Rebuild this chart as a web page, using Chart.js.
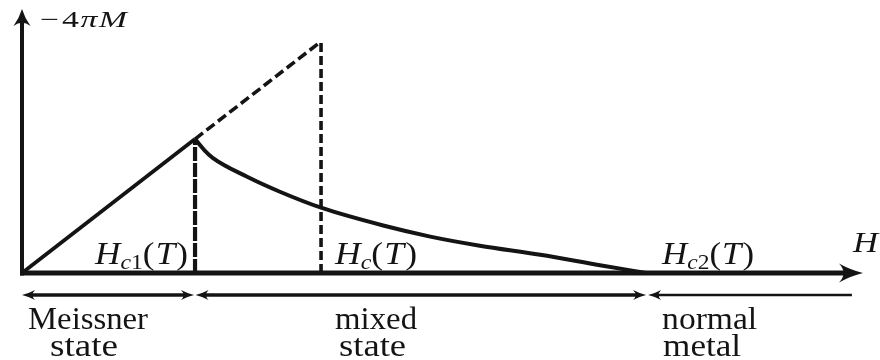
<!DOCTYPE html>
<html>
<head>
<meta charset="utf-8">
<script src="https://cdn.jsdelivr.net/npm/chart.js@4/dist/chart.umd.min.js"></script>
<style>
  html, body { margin: 0; padding: 0; background: #fff; }
  canvas { display: block; }
</style>
</head>
<body>
<canvas id="c" width="880" height="360"></canvas>
<script>
// Critical fields H_c1, H_c, H_c2 (same units as H)
const criticalFields = [2.06, 3.56, 7.43];
const fieldSubscripts = ['c1', 'c', 'c2'];

// Meissner branch: -4πM = H up to H_c1
const meissnerH = [0, 2.06];
const meissnerM = [0, 2.06];

// Continuation of the Meissner line up to the thermodynamic field H_c
const typeOneH = [2.06, 3.56];
const typeOneM = [2.06, 3.56];

// Magnetisation in the mixed state, between H_c1 and H_c2
const mixedH = [2.06, 2.17, 2.27, 2.68, 3.07, 3.57, 4.30, 4.86, 5.45, 6.17, 6.88, 7.43];
const mixedM = [2.06, 1.89, 1.77, 1.48, 1.25, 1.00, 0.73, 0.56, 0.42, 0.28, 0.12, 0.0];

// Axis extents
const axisH = [0, 10];
const axisM = [0, 4.06];

// Regions along the H axis
const regionBounds = [0, 2.06, 7.43, 9.88];
const regionNames = [['Meissner', 'state'], ['mixed', 'state'], ['normal', 'metal']];
const axisTitles = ['−4πM', 'H'];

const INK = '#141414';
const SERIF = '"Liberation Serif", "DejaVu Serif", serif';

const pts = (xs, ys) => xs.map((x, i) => ({ x, y: ys[i] }));
const [Hc1, Hc, Hc2] = criticalFields;

function arrowHead(ctx, tx, ty, angle, L, W) {
  ctx.save();
  ctx.translate(tx, ty);
  ctx.rotate(angle);
  ctx.beginPath();
  ctx.moveTo(0, 0);
  ctx.quadraticCurveTo(-L * 0.5, -W * 0.3, -L, -W);
  ctx.quadraticCurveTo(-L * 0.62, 0, -L, W);
  ctx.quadraticCurveTo(-L * 0.5, W * 0.3, 0, 0);
  ctx.closePath();
  ctx.fill();
  ctx.restore();
}

// Draws a run of text pieces (italic / roman / subscript) fitted to a width
function drawRich(ctx, parts, left, baseline, width) {
  let total = 0;
  const m = parts.map(p => {
    const font = (p.it ? 'italic ' : '') + p.size + 'px ' + SERIF;
    ctx.font = font;
    const w = ctx.measureText(p.t).width;
    const r = { font, w, p, x: total };
    total += w + (p.gap || 0);
    return r;
  });
  const sx = width / total;
  ctx.save();
  ctx.translate(left, baseline);
  ctx.scale(sx, 1);
  ctx.fillStyle = INK;
  ctx.textBaseline = 'alphabetic';
  ctx.textAlign = 'left';
  m.forEach(r => {
    ctx.font = r.font;
    ctx.fillText(r.p.t, r.x, r.p.dy || 0);
  });
  ctx.restore();
}

function fieldLabel(sub) {
  return [
    { t: 'H', it: true, size: 31 },
    { t: sub.charAt(0), it: true, size: 21, dy: 5 },
    ...(sub.length > 1 ? [{ t: sub.slice(1), size: 21, dy: 5 }] : []),
    { t: '(', size: 31, gap: 1 },
    { t: 'T', it: true, size: 31, gap: 1 },
    { t: ')', size: 31 }
  ];
}

const decorations = {
  id: 'decorations',
  beforeDatasetsDraw(chart) {
    const { ctx, scales: { x, y } } = chart;
    const x0 = x.getPixelForValue(axisH[0]);
    const y0 = y.getPixelForValue(0);
    const xEnd = x.getPixelForValue(axisH[1]);
    const yEnd = y.getPixelForValue(axisM[1]);
    ctx.save();
    ctx.strokeStyle = INK;
    ctx.fillStyle = INK;
    ctx.lineCap = 'butt';
    // H axis
    ctx.lineWidth = 5;
    ctx.beginPath();
    ctx.moveTo(x0 - 2, y0);
    ctx.lineTo(xEnd - 14, y0);
    ctx.stroke();
    arrowHead(ctx, xEnd + 1, y0, 0, 24, 9.5);
    // -4πM axis
    ctx.lineWidth = 4;
    ctx.beginPath();
    ctx.moveTo(x0, y0 + 2.5);
    ctx.lineTo(x0, yEnd + 10);
    ctx.stroke();
    arrowHead(ctx, x0, yEnd, -Math.PI / 2, 17, 8.5);
    ctx.restore();
  },
  afterDatasetsDraw(chart) {
    const { ctx, scales: { x, y } } = chart;
    const y0 = y.getPixelForValue(0);
    const px = v => x.getPixelForValue(v);
    ctx.save();
    ctx.strokeStyle = INK;
    ctx.fillStyle = INK;

    // Region arrows under the H axis
    const ya = y0 + 22;
    const spans = [
      { a: px(regionBounds[0]), b: px(regionBounds[1]) - 1, lw: 3.4, left: true, right: true },
      { a: px(regionBounds[1]) + 0.5, b: px(regionBounds[2]), lw: 3.4, left: true, right: true },
      { a: px(regionBounds[2]) + 2, b: px(regionBounds[3]), lw: 2.6, left: true, right: false }
    ];
    spans.forEach(s => {
      ctx.lineWidth = s.lw;
      ctx.beginPath();
      ctx.moveTo(s.a + (s.left ? 6 : 0), ya);
      ctx.lineTo(s.b - (s.right ? 6 : 0), ya);
      ctx.stroke();
      if (s.left) arrowHead(ctx, s.a, ya, Math.PI, 13, 5);
      if (s.right) arrowHead(ctx, s.b, ya, 0, 13, 5);
    });

    // Axis titles
    drawRich(ctx, [
      { t: '−', size: 23, gap: 2 },
      { t: '4', size: 23, gap: 1 },
      { t: 'π', it: true, size: 23, gap: 1 },
      { t: 'M', it: true, size: 23 }
    ], px(0) + 18, 26.5, 87);
    drawRich(ctx, [{ t: axisTitles[1], it: true, size: 29 }], 853, 251.5, 25);

    // Critical field labels
    drawRich(ctx, fieldLabel(fieldSubscripts[0]), px(Hc1) - 100, 263.5, 93);
    drawRich(ctx, fieldLabel(fieldSubscripts[1]), px(Hc) + 14, 264, 82);
    drawRich(ctx, fieldLabel(fieldSubscripts[2]), px(Hc2) + 16, 264, 92);

    // Region names
    const lines = [
      [[px(regionBounds[0]) + 6, 120], [px(regionBounds[0]) + 28, 68]],
      [[px(Hc) + 14, 82], [px(Hc) + 18, 67]],
      [[px(regionBounds[2]) + 16, 95], [px(regionBounds[2]) + 17, 78]]
    ];
    regionNames.forEach((names, i) => {
      drawRich(ctx, [{ t: names[0], size: 31 }], lines[i][0][0], 328.5, lines[i][0][1]);
      drawRich(ctx, [{ t: names[1], size: 31 }], lines[i][1][0], 356, lines[i][1][1]);
    });
    ctx.restore();
  }
};

const lineDefaults = {
  showLine: true,
  pointRadius: 0,
  pointHoverRadius: 0,
  borderColor: INK,
  backgroundColor: INK,
  fill: false,
  clip: false,
  borderCapStyle: 'butt'
};

new Chart(document.getElementById('c'), {
  type: 'scatter',
  data: {
    datasets: [
      { ...lineDefaults, label: 'Meissner', data: pts(meissnerH, meissnerM), borderWidth: 3.8 },
      { ...lineDefaults, label: 'type I', data: pts(typeOneH, typeOneM), borderWidth: 3.6, borderDash: [10, 4.5] },
      { ...lineDefaults, label: 'Hc1', data: [{ x: Hc1, y: 0 }, { x: Hc1, y: meissnerM[1] }], borderWidth: 4.2, borderDash: [14, 2] },
      { ...lineDefaults, label: 'Hc', data: [{ x: Hc, y: 0 }, { x: Hc, y: typeOneM[1] }], borderWidth: 3.6, borderDash: [9, 4] },
      { ...lineDefaults, label: 'mixed', data: pts(mixedH, mixedM), borderWidth: 4, cubicInterpolationMode: 'monotone', borderJoinStyle: 'round' }
    ]
  },
  options: {
    responsive: false,
    animation: false,
    devicePixelRatio: 1,
    layout: { padding: { left: 22, right: 18, top: 9, bottom: 87 } },
    plugins: { legend: { display: false }, tooltip: { enabled: false } },
    scales: {
      x: { type: 'linear', min: axisH[0], max: axisH[1], display: false },
      y: { type: 'linear', min: axisM[0], max: axisM[1], display: false }
    }
  },
  plugins: [decorations]
});
</script>
</body>
</html>
